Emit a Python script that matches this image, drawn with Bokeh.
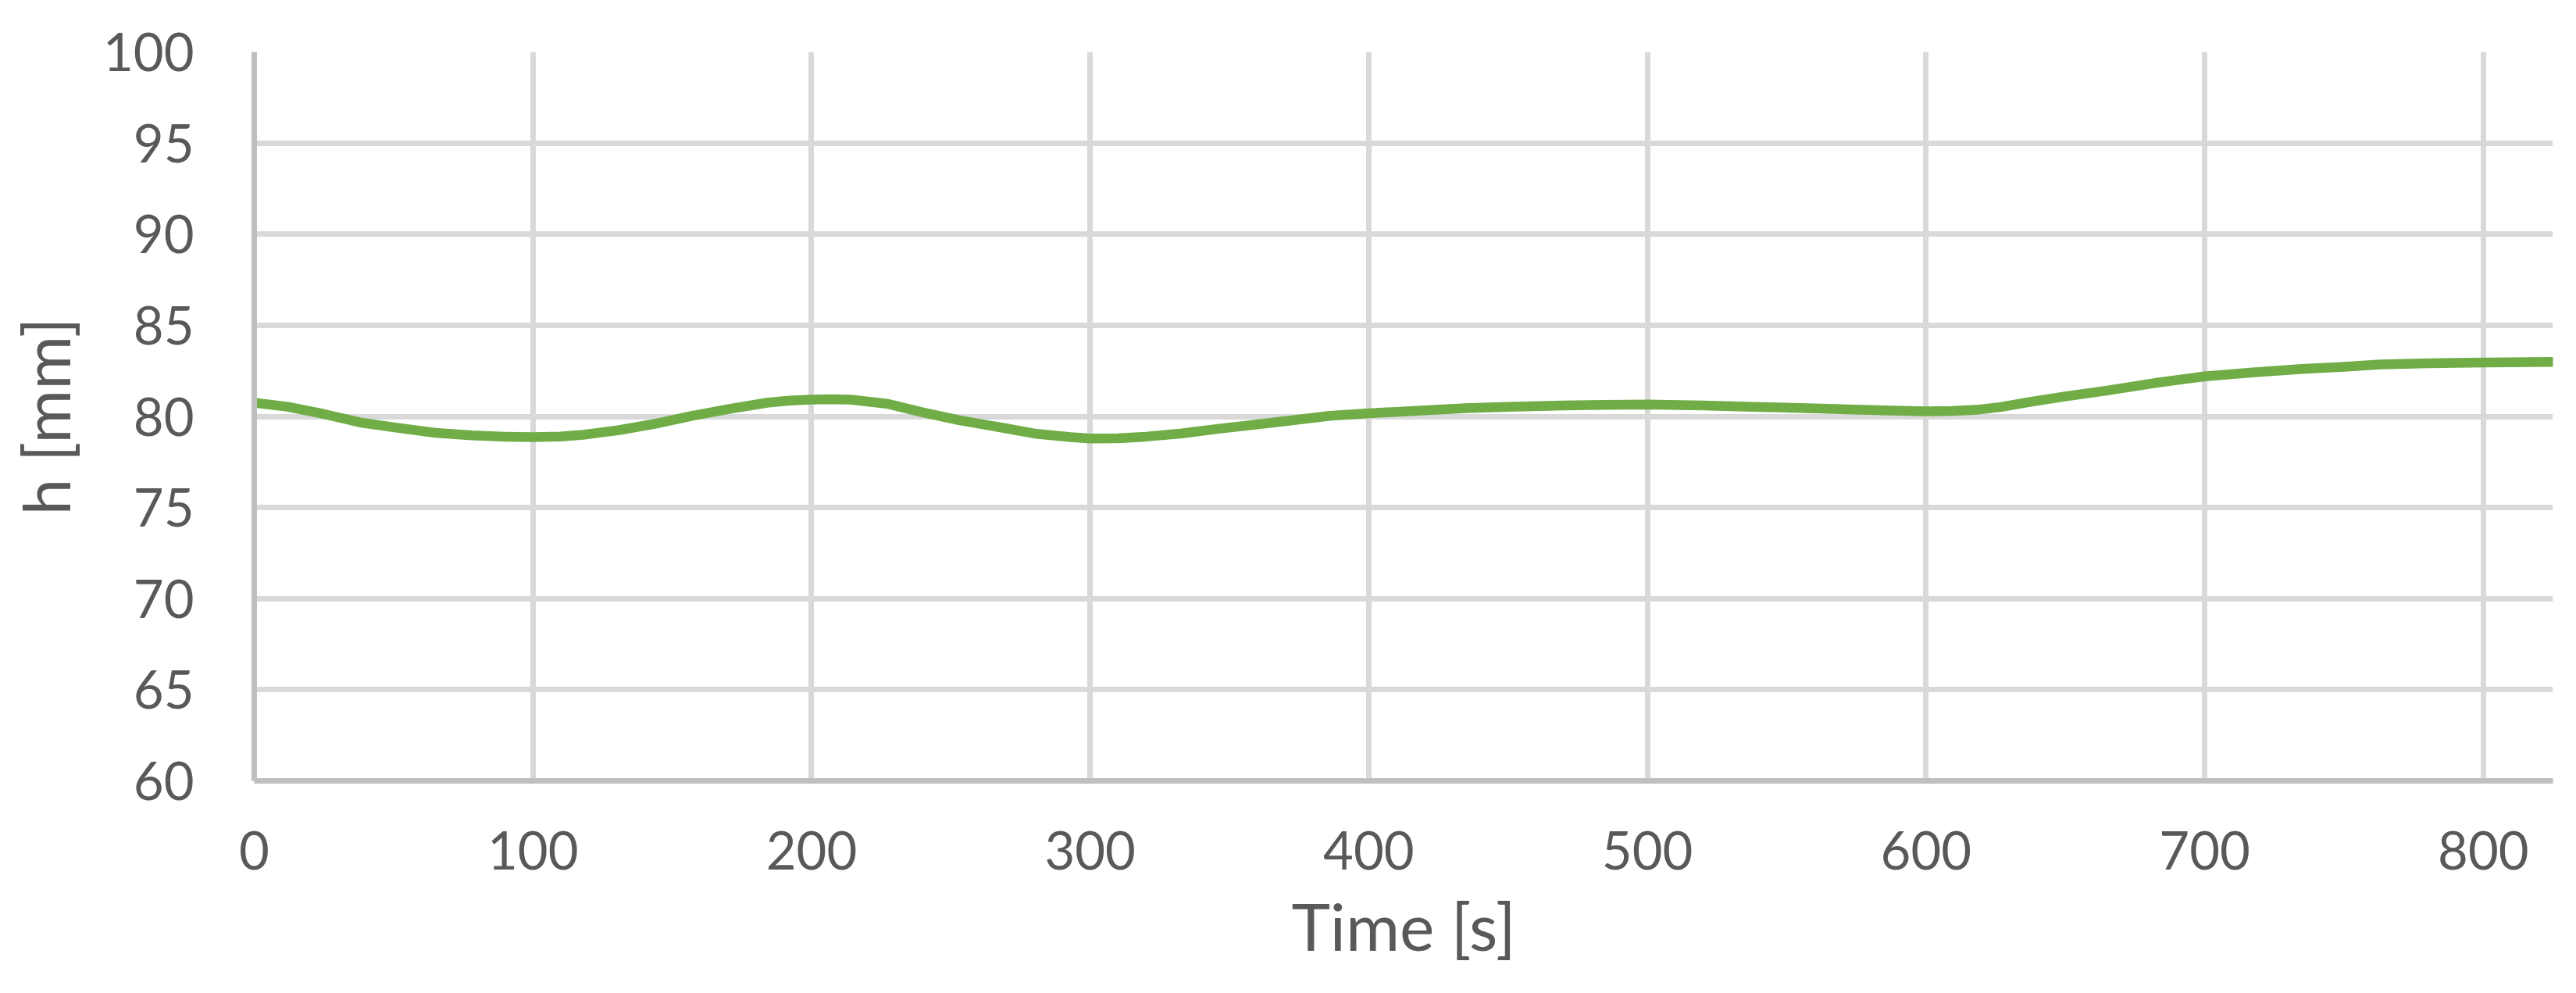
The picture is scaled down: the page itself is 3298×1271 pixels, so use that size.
from bokeh.plotting import figure
from bokeh.models import FixedTicker, Range1d
from bokeh.embed import file_html
from bokeh.resources import INLINE

# Data
time_s = [0, 12, 25, 38, 52, 65, 78, 90, 100, 110, 118, 131, 144, 157, 171, 184,
          192, 200, 207, 214, 227, 240, 253, 267, 280, 293, 300, 310, 320, 333,
          346, 366, 386, 400, 420, 436, 450, 470, 485, 500, 520, 538, 555, 572,
          585, 600, 609, 618, 627, 637, 650, 665, 682, 700, 718, 735, 750, 763,
          780, 800, 825]
h_mm = [80.75, 80.53, 80.13, 79.67, 79.36, 79.10, 78.96, 78.89, 78.86, 78.90,
        78.99, 79.25, 79.60, 80.03, 80.42, 80.75, 80.87, 80.92, 80.94, 80.92,
        80.70, 80.22, 79.79, 79.42, 79.06, 78.86, 78.79, 78.80, 78.89, 79.07,
        79.32, 79.67, 80.03, 80.17, 80.33, 80.46, 80.53, 80.60, 80.63, 80.65,
        80.60, 80.53, 80.46, 80.39, 80.33, 80.28, 80.30, 80.36, 80.52, 80.79,
        81.10, 81.42, 81.83, 82.20, 82.42, 82.60, 82.72, 82.85, 82.92, 82.96,
        82.99]

x_ticks = [0, 100, 200, 300, 400, 500, 600, 700, 800]
y_ticks = [60, 65, 70, 75, 80, 85, 90, 95, 100]

FONT = "Lato"
TEXT_COLOR = "#595959"

p = figure(width=3282, height=1255, output_backend="svg", toolbar_location=None,
           x_range=Range1d(0, 825), y_range=Range1d(60, 100),
           min_border_left=325, min_border_right=14, min_border_top=66,
           min_border_bottom=256)

p.outline_line_color = None
p.background_fill_color = "white"
p.border_fill_color = "white"

p.line(time_s, h_mm, line_color="#70AD47", line_width=12.5, line_cap="round",
       line_join="round")

# grids
for g in (p.xgrid[0], p.ygrid[0]):
    g.grid_line_color = "#D9D9D9"
    g.grid_line_width = 7
p.xgrid[0].ticker = FixedTicker(ticks=x_ticks)
p.ygrid[0].ticker = FixedTicker(ticks=y_ticks)

# axes
xa = p.xaxis[0]
ya = p.yaxis[0]
xa.ticker = FixedTicker(ticks=x_ticks)
ya.ticker = FixedTicker(ticks=y_ticks)
for ax in (xa, ya):
    ax.axis_line_color = "#BFBFBF"
    ax.axis_line_width = 7
    ax.major_tick_line_color = None
    ax.minor_tick_line_color = None
    ax.major_tick_out = 0
    ax.major_tick_in = 0
    ax.minor_tick_out = 0
    ax.minor_tick_in = 0
    ax.major_label_text_font = FONT
    ax.major_label_text_font_size = "67px"
    ax.major_label_text_color = TEXT_COLOR
    ax.axis_label_text_font = FONT
    ax.axis_label_text_font_size = "84px"
    ax.axis_label_text_color = TEXT_COLOR
    ax.axis_label_text_font_style = "normal"

xa.axis_label = "Time [s]"
ya.axis_label = "h [mm]"
xa.major_label_standoff = 64
xa.axis_label_standoff = 18
ya.major_label_standoff = 77
ya.axis_label_standoff = 21

open("out.html", "w").write(file_html(p, INLINE))
